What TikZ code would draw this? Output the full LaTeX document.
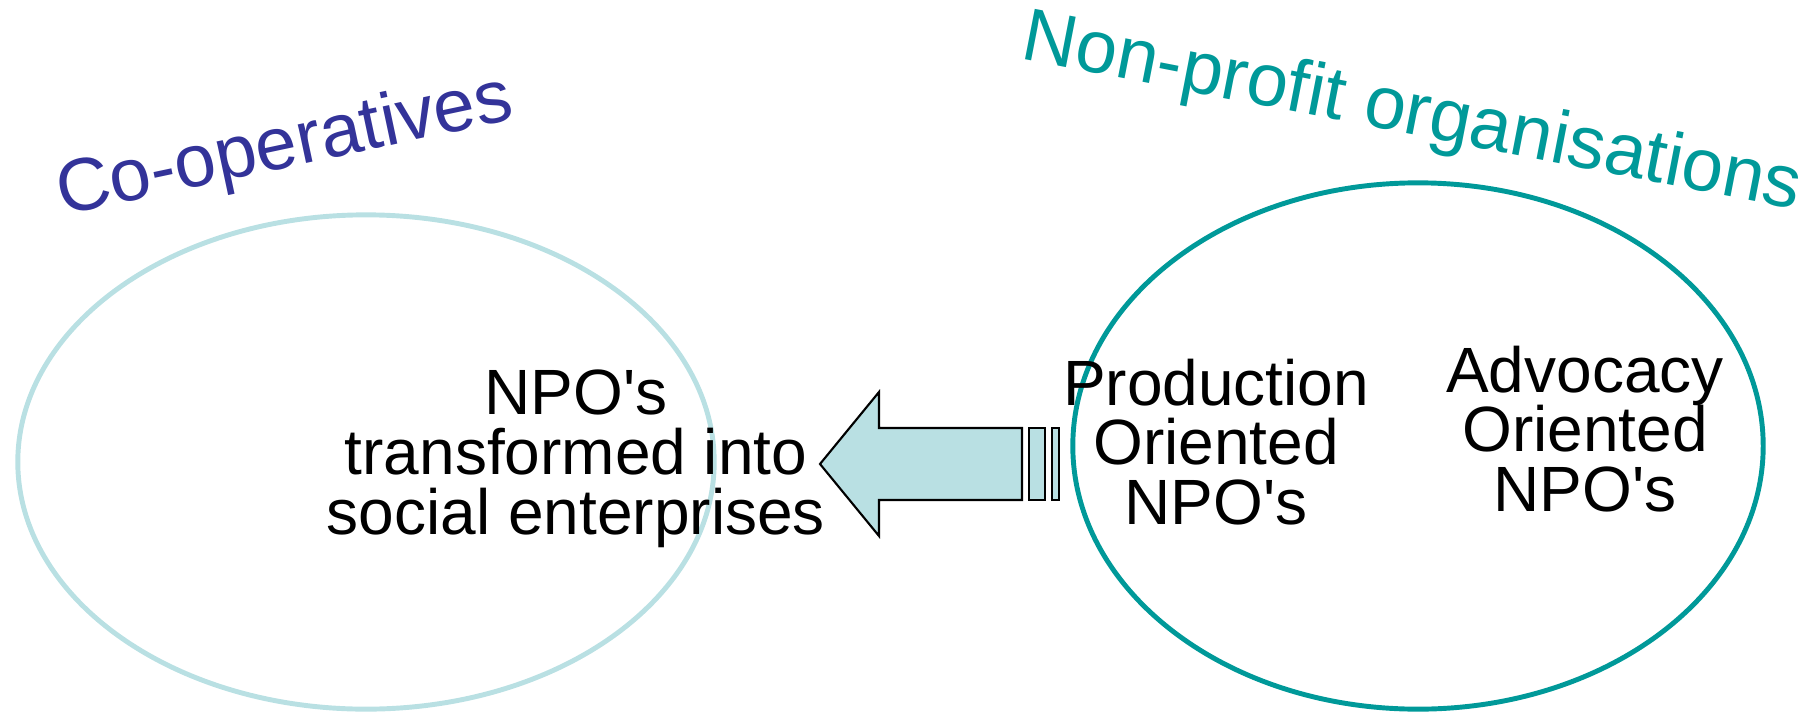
\documentclass[tikz,border=0pt]{standalone}
\usepackage{fontspec}
\setmainfont{Liberation Sans}
\usepackage{xcolor}
\usepackage{tikz}
\usetikzlibrary{positioning,calc}

\definecolor{coopblue}{HTML}{333399}
\definecolor{npoteal}{HTML}{009999}
\definecolor{paleblue}{HTML}{B9E0E3}

\newcommand{\npos}{NPO\textquotesingle s}

\tikzset{
    heading/.style={font=\fontsize{21.2}{24}\selectfont, anchor=base, inner sep=0pt},
    inner text/.style={font=\fontsize{18.2}{17}\selectfont, align=center, inner sep=0pt},
    block arrow/.style={fill=paleblue, draw=black, line width=0.6pt, line join=miter}
}

\begin{document}
\begin{tikzpicture}[x=0.01cm, y=-0.01cm]
    \useasboundingbox (0,0) rectangle (1818,712);

    % Sets
    \draw[paleblue, line width=1.4pt] (366,462) ellipse [x radius=3.48cm, y radius=2.47cm];
    \draw[npoteal, line width=1.4pt] (1418,446) ellipse [x radius=3.45cm, y radius=2.63cm];

    % Titles
    \node[heading, coopblue, rotate=12] (coop) at (289,167) {Co-operatives};
    \node[heading, npoteal, rotate=-11] (nonprofit) at (1408,134) {Non-profit organisations};

    % Contents
    \node[inner text] (transformed) at (576,459) {\npos\\transformed into\\social enterprises};
    \node[inner text] (production) at (1216,442) {Production\\Oriented\\\npos};
    \node[inner text] (advocacy) at (1585,429) {Advocacy\\Oriented\\\npos};

    % Arrow
    \filldraw[block arrow] (820,464) -- (879,392) -- (879,428) -- (1022,428)
        -- (1022,500) -- (879,500) -- (879,536) -- cycle;
    \filldraw[block arrow] (1029,428) rectangle (1045,500);
    \filldraw[block arrow] (1052,428) rectangle (1059,500);
\end{tikzpicture}
\end{document}
